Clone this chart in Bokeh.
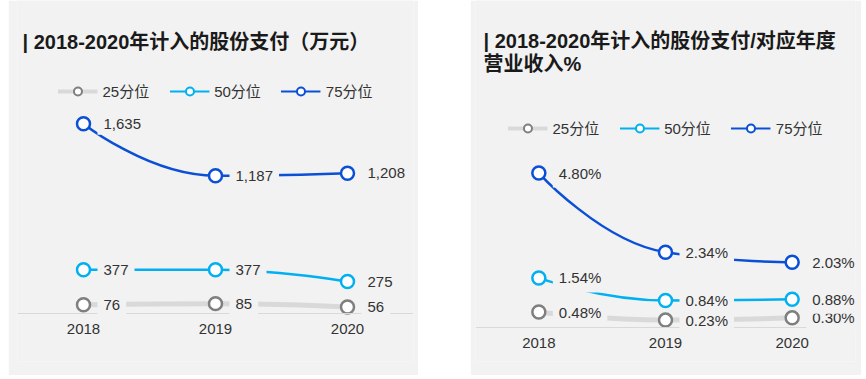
from bokeh.plotting import figure
from bokeh.models import (ColumnDataSource, Legend, LegendItem, Label,
                          FixedTicker, Range1d, Spacer)
from bokeh.layouts import row
from bokeh.embed import file_html
from bokeh.resources import INLINE

# ---------------- data ----------------
years = ["2018", "2019", "2020"]
series_names = ["25分位", "50分位", "75分位"]

pay_p25 = [76, 85, 56]
pay_p50 = [377, 377, 275]
pay_p75 = [1635, 1187, 1208]

ratio_p25 = [0.48, 0.23, 0.30]
ratio_p50 = [1.54, 0.84, 0.88]
ratio_p75 = [4.80, 2.34, 2.03]

title_left = ["| 2018-2020年计入的股份支付（万元）"]
title_right = ["| 2018-2020年计入的股份支付/对应年度", "营业收入%"]

# ---------------- style ----------------
BG = "#f2f2f2"
FONT = "Liberation Sans, Noto Sans CJK SC"
TEXT = "#333333"
STYLE = {
    "25分位": dict(line="#d9d9d9", lw=5, leg_lw=4, mk="#7f7f7f"),
    "50分位": dict(line="#00b0f0", lw=2.5, leg_lw=2, mk="#00b0f0"),
    "75分位": dict(line="#0a4fd6", lw=2.5, leg_lw=2, mk="#0a4fd6"),
}
NAN = float("nan")
H = 375
BOTTOM = 14  # border under the frame


def smooth_segments(xs, ys, s=0.5):
    """ECharts-like smoothing: bezier control points with clamping."""
    n = len(xs)
    cp_prev = [(xs[i], ys[i]) for i in range(n)]
    cp_next = [(xs[i], ys[i]) for i in range(n)]
    for i in range(1, n - 1):
        vx = xs[i + 1] - xs[i - 1]
        vy = ys[i + 1] - ys[i - 1]
        nx = xs[i] + vx * s * 0.5
        ny = ys[i] + vy * s * 0.5
        ny = min(max(ny, min(ys[i], ys[i + 1])), max(ys[i], ys[i + 1]))
        vx, vy = nx - xs[i], ny - ys[i]
        px, py = xs[i] - vx, ys[i] - vy
        py = min(max(py, min(ys[i - 1], ys[i])), max(ys[i - 1], ys[i]))
        vx, vy = xs[i] - px, ys[i] - py
        cp_prev[i] = (px, py)
        cp_next[i] = (xs[i] + vx, ys[i] + vy)
    d = dict(x0=[], y0=[], x1=[], y1=[], cx0=[], cy0=[], cx1=[], cy1=[])
    for i in range(n - 1):
        d["x0"].append(xs[i]); d["y0"].append(ys[i])
        d["x1"].append(xs[i + 1]); d["y1"].append(ys[i + 1])
        d["cx0"].append(cp_next[i][0]); d["cy0"].append(cp_next[i][1])
        d["cx1"].append(cp_prev[i + 1][0]); d["cy1"].append(cp_prev[i + 1][1])
    return d


def make_panel(width, data, fmt, px_per_unit, base_px, titles, title_x,
               title_y0, border_lr, legend_top):
    idx = list(range(len(years)))
    frame_h = H - BOTTOM
    y_start = -(frame_h - base_px) / px_per_unit
    y_end = base_px / px_per_unit
    x_start, x_end = -0.5, len(years) - 0.5
    p = figure(width=width, height=H, output_backend="svg",
               toolbar_location=None, y_axis_location=None,
               title_location=None,
               x_range=Range1d(x_start, x_end),
               y_range=Range1d(y_start, y_end),
               min_border_left=border_lr[0], min_border_right=border_lr[1],
               min_border_top=0, min_border_bottom=BOTTOM)
    p.background_fill_color = BG
    p.border_fill_color = BG
    p.outline_line_color = None
    p.grid.visible = False

    # title lines, anchored at the frame's top-left corner
    for k, t in enumerate(titles):
        p.add_layout(Label(x=x_start, y=y_end, text=t, x_offset=title_x,
                           y_offset=-(title_y0 + 23 * k),
                           text_baseline="middle", text_align="left",
                           text_font=FONT, text_font_size="20px",
                           text_font_style="bold", text_color="#1a1a1a"))

    ax = p.xaxis[0]
    ax.fixed_location = 0
    ax.ticker = FixedTicker(ticks=idx)
    ax.major_label_overrides = {i: y for i, y in zip(idx, years)}
    ax.axis_line_color = "#d9d9d9"
    ax.axis_line_width = 1
    ax.major_tick_line_color = None
    ax.minor_tick_line_color = None
    ax.major_tick_out = 0
    ax.major_tick_in = 0
    ax.major_label_text_font = FONT
    ax.major_label_text_font_size = "15px"
    ax.major_label_text_color = TEXT
    ax.major_label_standoff = 10

    for name, vals in zip(series_names, data):
        st = STYLE[name]
        src = ColumnDataSource(smooth_segments(idx, vals))
        p.bezier(x0="x0", y0="y0", x1="x1", y1="y1", cx0="cx0", cy0="cy0",
                 cx1="cx1", cy1="cy1", source=src,
                 line_color=st["line"], line_width=st["lw"])
    items = []
    for name, vals in zip(series_names, data):
        st = STYLE[name]
        p.scatter(idx, vals, marker="circle", size=13, line_width=2.5,
                  line_color=st["mk"], fill_color="white")
        for i, v in zip(idx, vals):
            p.add_layout(Label(x=i, y=v, text=fmt(v), x_offset=14,
                               text_baseline="middle", text_align="left",
                               text_font=FONT, text_font_size="15px",
                               text_color=TEXT, background_fill_color=BG,
                               padding=6))
        # legend-only glyphs (no visible data)
        lr = p.line([NAN], [NAN], line_color=st["line"], line_width=st["leg_lw"])
        cr = p.scatter([NAN], [NAN], marker="circle", size=7, line_width=2,
                       line_color=st["mk"], fill_color="white")
        items.append(LegendItem(label=name, renderers=[lr, cr]))

    leg = Legend(items=items, orientation="horizontal", location="top_center",
                 glyph_width=40, glyph_height=20, label_standoff=5, spacing=20,
                 padding=0, margin=legend_top,
                 background_fill_alpha=0, border_line_alpha=0,
                 label_text_font=FONT, label_text_font_size="15px",
                 label_text_color=TEXT)
    p.add_layout(leg)
    return p


left = make_panel(410, [pay_p25, pay_p50, pay_p75], lambda v: f"{v:,}",
                  0.1161, 313, title_left, 5, 41, (9, 5), 80)
right = make_panel(391, [ratio_p25, ratio_p50, ratio_p75], lambda v: f"{v:.2f}%",
                   32.18, 327, title_right, 8, 40, (5, 6), 117)

layout = row(Spacer(width=8, height=H), left, Spacer(width=52, height=H), right)
open("out.html", "w").write(file_html(layout, INLINE))
